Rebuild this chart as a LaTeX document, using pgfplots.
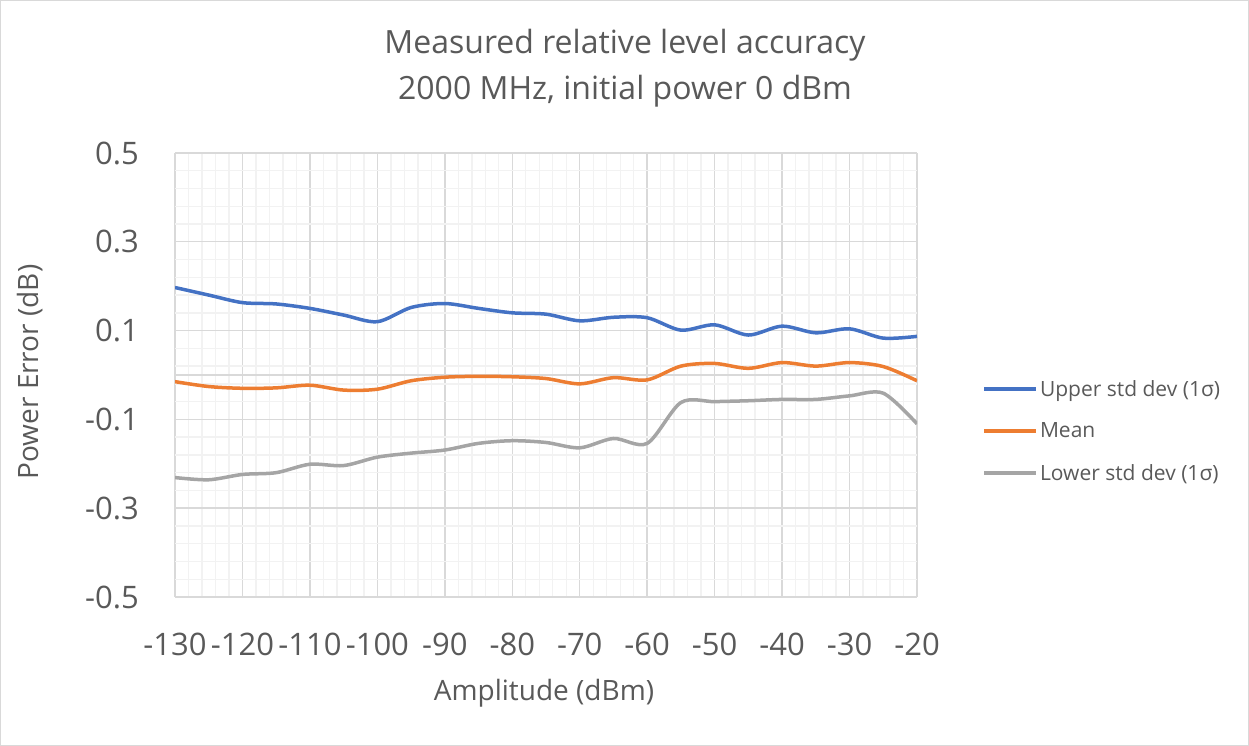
\documentclass[border=0pt]{standalone}
\usepackage{fontspec}
\setmainfont{Open Sans}
\usepackage{pgfplots}
\pgfplotsset{compat=1.18}
\definecolor{cblue}{HTML}{4472C4}
\definecolor{corange}{HTML}{ED7D31}
\definecolor{cgray}{HTML}{A5A5A5}
\definecolor{ctext}{HTML}{595959}
\definecolor{gmaj}{HTML}{D9D9D9}
\definecolor{gmin}{HTML}{F2F2F2}
\begin{document}
\begin{tikzpicture}[x=1pt,y=1pt]
\path[use as bounding box, draw=gmaj, line width=1pt] (0.5,0.5) rectangle (1248.5,745.5);
\begin{axis}[
  at={(175pt,149pt)}, anchor=south west,
  scale only axis, width=742pt, height=444pt,
  xmin=-130, xmax=-20, ymin=-0.5, ymax=0.5,
  axis line style={draw=none},
  xtick={-130,-120,...,-20},
  xticklabels={-130,-120,-110,-100,-90,-80,-70,-60,-50,-40,-30,-20},
  ytick={-0.5,-0.3,-0.1,0.1,0.3,0.5},
  yticklabels={-0.5,-0.3,-0.1,0.1,0.3,0.5},
  minor x tick num=4, minor y tick num=4,
  major tick length=0pt, minor tick length=0pt,
  grid=both,
  major grid style={gmaj, line width=1.4pt},
  minor grid style={gmin, line width=1.4pt},
  extra y ticks={0}, extra y tick labels={},
  extra y tick style={grid style={color=black!28, line width=1.5pt}},
  tick label style={font=\fontsize{31}{31}\selectfont, text=ctext, inner sep=0pt},
  xticklabel style={anchor=north, yshift=-36pt},
  yticklabel style={anchor=east, xshift=-36pt},
  legend style={draw=none, fill=none, at={(1.088,0.374)}, anchor=west,
    font=\fontsize{21}{21}\selectfont, text=ctext, row sep=21pt,
    inner sep=0pt, nodes={inner sep=2pt}},
  legend cell align=left,
  legend image code/.code={\draw[#1, line width=3.5pt] (0pt,0pt) -- (52pt,0pt);},
  every axis plot/.append style={line width=3.5pt, smooth, tension=0.5},
]
\addplot[cblue] coordinates {
(-130,0.197) (-125,0.180) (-120,0.163) (-115,0.160) (-110,0.150) (-105,0.135)
(-100,0.120) (-95,0.152) (-90,0.161) (-85,0.150) (-80,0.140) (-75,0.137)
(-70,0.122) (-65,0.130) (-60,0.129) (-55,0.101) (-50,0.113) (-45,0.090)
(-40,0.110) (-35,0.095) (-30,0.104) (-25,0.083) (-20,0.087)};
\addlegendentry{Upper std dev (1σ)}
\addplot[corange] coordinates {
(-130,-0.015) (-125,-0.026) (-120,-0.030) (-115,-0.029) (-110,-0.023) (-105,-0.034)
(-100,-0.032) (-95,-0.013) (-90,-0.005) (-85,-0.003) (-80,-0.004) (-75,-0.008)
(-70,-0.020) (-65,-0.006) (-60,-0.011) (-55,0.020) (-50,0.026) (-45,0.015)
(-40,0.028) (-35,0.020) (-30,0.028) (-25,0.019) (-20,-0.013)};
\addlegendentry{Mean}
\addplot[cgray] coordinates {
(-130,-0.231) (-125,-0.236) (-120,-0.224) (-115,-0.220) (-110,-0.201) (-105,-0.204)
(-100,-0.185) (-95,-0.176) (-90,-0.169) (-85,-0.154) (-80,-0.148) (-75,-0.152)
(-70,-0.164) (-65,-0.143) (-60,-0.154) (-55,-0.062) (-50,-0.060) (-45,-0.058)
(-40,-0.055) (-35,-0.055) (-30,-0.047) (-25,-0.041) (-20,-0.110)};
\addlegendentry{Lower std dev (1σ)}
\end{axis}
\node[text=ctext, align=center, font=\fontsize{32}{46}\selectfont] at (625,678) {Measured relative level accuracy\\2000 MHz, initial power 0 dBm};
\node[text=ctext, font=\fontsize{28}{28}\selectfont] at (544,53) {Amplitude (dBm)};
\node[text=ctext, rotate=90, font=\fontsize{28}{28}\selectfont] at (30,374) {Power Error (dB)};
\end{tikzpicture}
\end{document}
